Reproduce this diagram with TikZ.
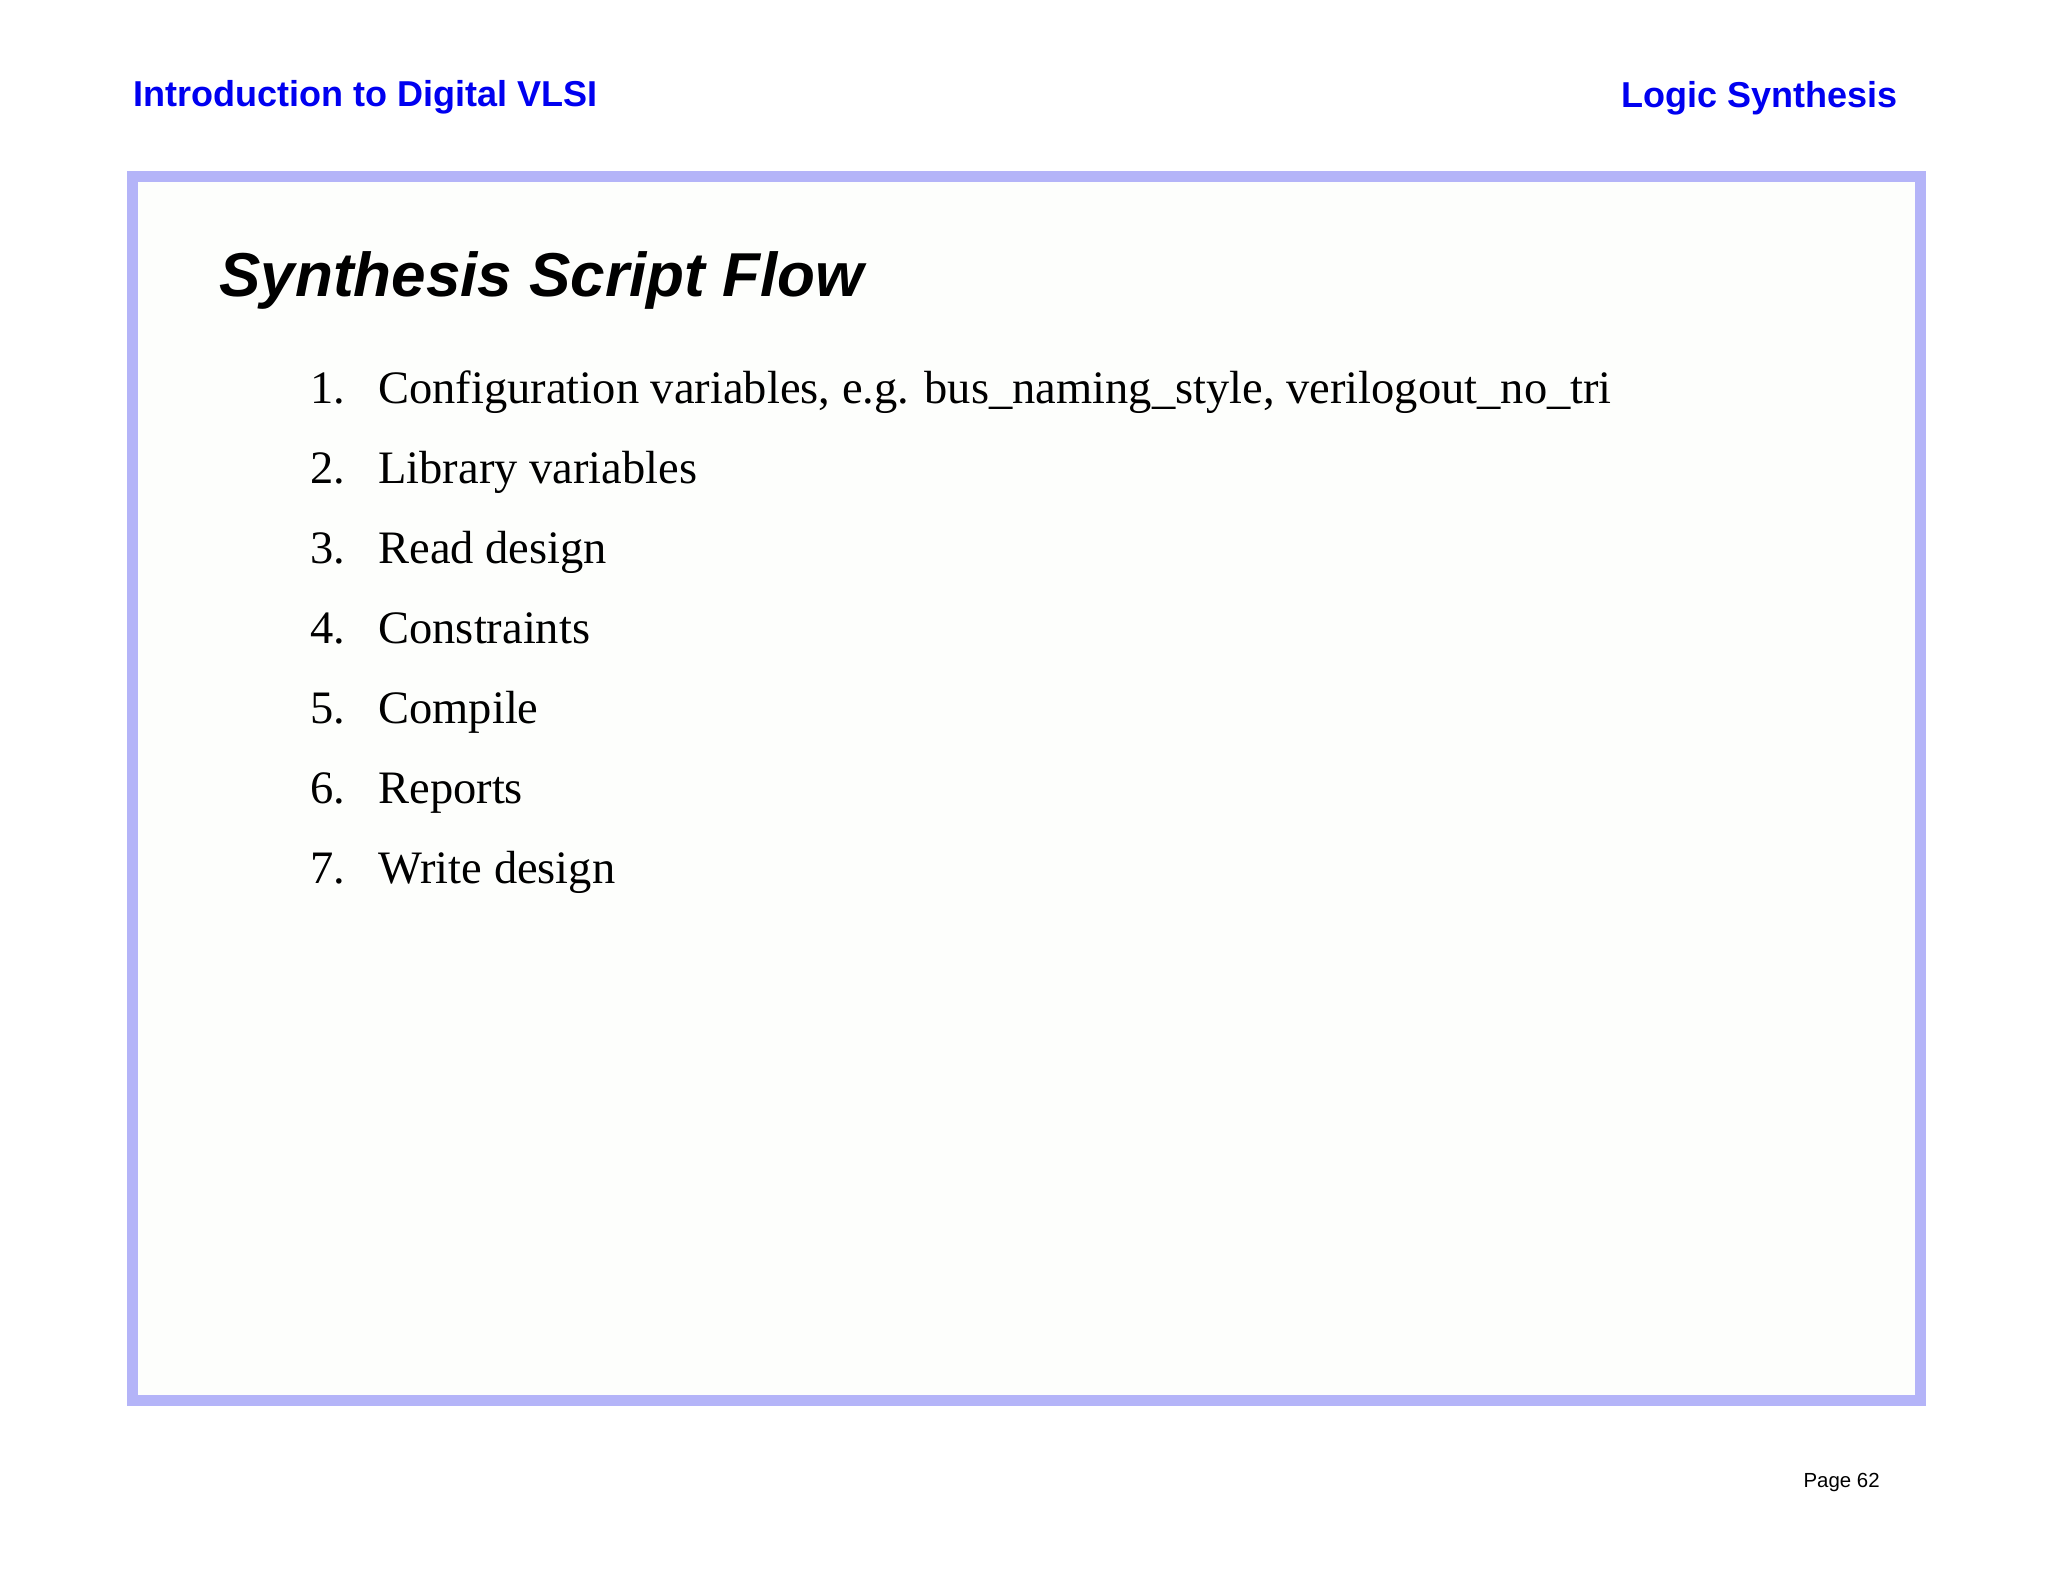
\documentclass[tikz,border=0pt]{standalone}
\usepackage{fontspec}
\setmainfont{Liberation Serif}
\setsansfont{Liberation Sans}
\definecolor{framecol}{RGB}{180,180,248}
\definecolor{fillcol}{RGB}{253,254,252}
\definecolor{headblue}{RGB}{0,0,240}
\begin{document}
\begin{tikzpicture}[x=0.5pt,y=-0.5pt,
  header/.style={inner sep=0pt,font=\sffamily\bfseries\fontsize{18}{20}\selectfont,text=headblue},
  titletext/.style={inner sep=0pt,anchor=base west,font=\sffamily\bfseries\itshape\fontsize{31}{34}\selectfont},
  itemnum/.style={inner sep=0pt,anchor=base west,font=\fontsize{23.25}{26}\selectfont},
  itemtext/.style={inner sep=0pt,anchor=base west,font=\fontsize{23.25}{26}\selectfont},
  pagetext/.style={inner sep=0pt,anchor=base east,font=\sffamily\fontsize{10.2}{12}\selectfont}]
\useasboundingbox (0,0) rectangle (2048,1580);
\fill[white] (0,0) rectangle (2048,1580);
\draw[framecol,line width=5.5pt,fill=fillcol] (132.5,176) rectangle (1920.5,1400);
\node[header,anchor=base west] (hl) at (133,106) {Introduction to Digital VLSI};
\node[header,anchor=base east] (hr) at (1898,107) {Logic Synthesis};
\node[titletext] (title) at (219,296) {Synthesis Script Flow};
\foreach \n/\t [count=\i from 0] in {1/{Configuration variables, e.g. bus\_naming\_style, verilogout\_no\_tri},
  2/Library variables,3/Read design,4/Constraints,5/Compile,6/Reports,7/Write design}{
  \node[itemnum] (n\n) at (310,403+80.1*\i) {\n.};
  \node[itemtext] (t\n) at (378,403+80.1*\i) {\t};
}
\node[pagetext] (page) at (1880,1487) {Page 62};
\end{tikzpicture}
\end{document}
